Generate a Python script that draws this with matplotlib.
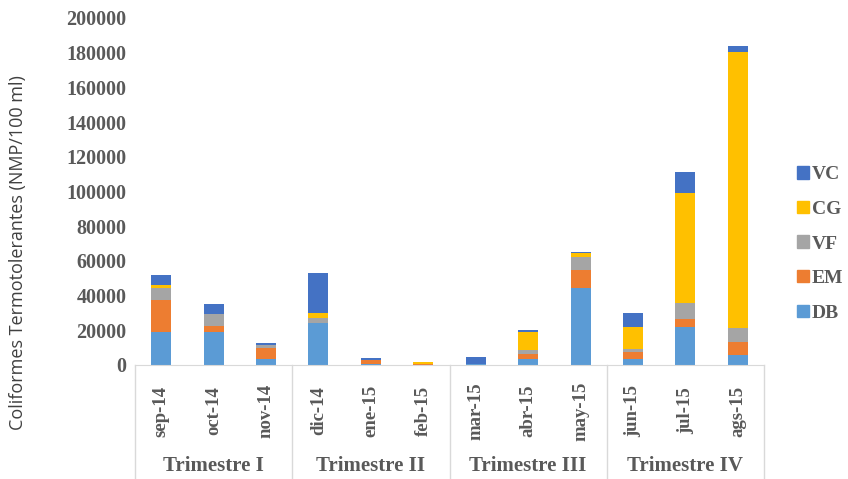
import matplotlib
matplotlib.use("Agg")
import matplotlib.pyplot as plt
import matplotlib.transforms as mtransforms
from matplotlib.patches import Patch
import numpy as np

months = ["sep-14", "oct-14", "nov-14", "dic-14", "ene-15", "feb-15",
          "mar-15", "abr-15", "may-15", "jun-15", "jul-15", "ags-15"]
quarters = ["Trimestre I", "Trimestre II", "Trimestre III", "Trimestre IV"]

DB = [19000, 18800, 3300, 24400, 300, 200, 800, 3300, 44600, 3300, 21700, 5800]
EM = [18300, 3700, 6700, 0, 2300, 200, 0, 2900, 10200, 4400, 4600, 7500]
VF = [7100, 6900, 1500, 2500, 300, 400, 0, 2400, 7300, 1500, 9300, 7900]
CG = [1500, 0, 0, 2900, 0, 700, 0, 10400, 2300, 12900, 63300, 159400]
VC = [5800, 5600, 1000, 23400, 900, 500, 3600, 1200, 900, 8100, 12500, 3300]

series = [("DB", DB, "#5B9BD5"), ("EM", EM, "#ED7D31"), ("VF", VF, "#A5A5A5"),
          ("CG", CG, "#FFC000"), ("VC", VC, "#4472C4")]

W, H = 848, 479
fig = plt.figure(figsize=(W / 100, H / 100), dpi=100)
ax = fig.add_axes([135 / W, 1 - 365 / H, (764 - 135) / W, (365 - 18) / H])

txt = "#595959"
serif = "Liberation Serif"

x = np.arange(len(months))
bottom = np.zeros(len(months))
for name, vals, col in series:
    ax.bar(x, vals, width=0.38, bottom=bottom, color=col, label=name)
    bottom += np.array(vals)

ax.set_xlim(-0.5, len(months) - 0.5)
ax.set_ylim(0, 200000)
ax.set_yticks(np.arange(0, 200001, 20000))
ax.set_yticklabels([str(v) for v in range(0, 200001, 20000)],
                   fontfamily=serif, fontweight="bold", fontsize=14.5, color=txt)
ax.tick_params(axis="y", length=0, pad=6)
ax.tick_params(axis="x", length=0)
ax.set_xticks(x)
ax.set_xticklabels([])
for s in ["top", "right", "left"]:
    ax.spines[s].set_visible(False)
ax.spines["bottom"].set_color("#D9D9D9")

trans = mtransforms.blended_transform_factory(ax.transData, ax.transAxes)
ybot = (365 - 479) / 347
for xv in [-0.5, 2.5, 5.5, 8.5, 11.5]:
    ax.plot([xv, xv], [0, ybot], transform=trans, color="#D9D9D9", lw=1, clip_on=False)

ymon = (365 - 411) / 347
for i, m in enumerate(months):
    ax.text(i, ymon, m, transform=trans, rotation=90, ha="center", va="center",
            fontfamily=serif, fontweight="bold", fontsize=13.5, color=txt)

yq = (365 - 466) / 347
for qi, q in enumerate(quarters):
    ax.text(qi * 3 + 1, yq, q, transform=trans, ha="center", va="center",
            fontfamily=serif, fontweight="bold", fontsize=15, color=txt)

fig.text(18 / W, 1 - 253 / H, "Coliformes Termotolerantes (NMP/100 ml)",
         rotation=90, ha="center", va="center", fontfamily="Open Sans",
         fontsize=13, color="#404040")

handles = [Patch(color=c, label=n) for n, _, c in reversed(series)]
leg = fig.legend(handles=handles, loc="center left",
                 bbox_to_anchor=(797 / W, 1 - 244 / H), frameon=False,
                 prop={"family": serif, "weight": "bold", "size": 14},
                 labelcolor=txt, handlelength=0.6, handleheight=0.6,
                 handletextpad=0.15, labelspacing=0.9, borderaxespad=0,
                 borderpad=0)

fig.savefig("out.png", dpi=100)
